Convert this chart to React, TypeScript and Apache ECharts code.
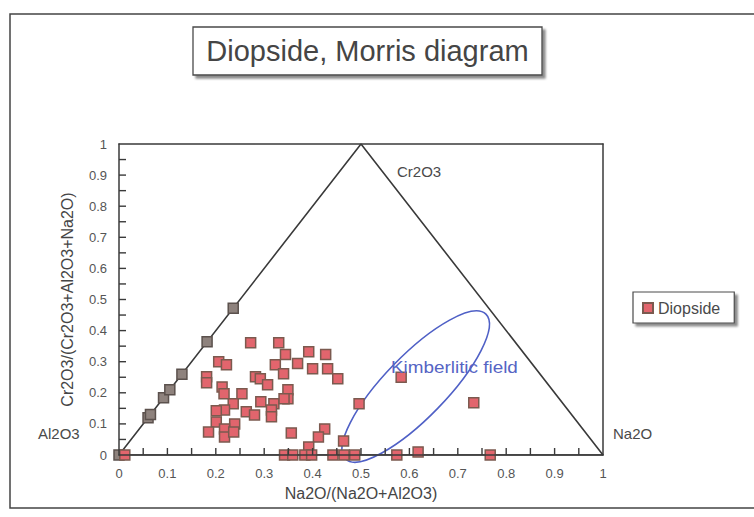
import React, { useEffect, useRef } from "react";
import * as echarts from "echarts";

// Axis tick labels (both axes run 0..1 in steps of 0.1)
const xTickLabels = ["0", "0.1", "0.2", "0.3", "0.4", "0.5", "0.6", "0.7", "0.8", "0.9", "1"];
const yTickLabels = ["0", "0.1", "0.2", "0.3", "0.4", "0.5", "0.6", "0.7", "0.8", "0.9", "1"];

// Tick marks on both axes (major and minor), pointing into the plot
const tickValues = [
  0.05, 0.1, 0.15, 0.2, 0.25, 0.3, 0.35, 0.4, 0.45, 0.5,
  0.55, 0.6, 0.65, 0.7, 0.75, 0.8, 0.85, 0.9, 0.95,
];

// Ternary frame: Al2O3 (0,0) - Cr2O3 (0.5,1) - Na2O (1,0)
const triangleX = [0, 0.5, 1, 0];
const triangleY = [0, 1, 0, 0];

// Diopside analyses: Na2O/(Na2O+Al2O3) and Cr2O3/(Cr2O3+Al2O3+Na2O)
const diopsideX = [
  0.012, 0.206, 0.222, 0.272, 0.33, 0.344, 0.392, 0.427, 0.369, 0.323,
  0.4, 0.431, 0.34, 0.452, 0.181, 0.181, 0.282, 0.292, 0.307, 0.213,
  0.217, 0.254, 0.349, 0.349, 0.293, 0.32, 0.236, 0.218, 0.201, 0.263,
  0.28, 0.315, 0.315, 0.341, 0.201, 0.239, 0.185, 0.218, 0.218, 0.237,
  0.356, 0.425, 0.412, 0.392, 0.464, 0.342, 0.359, 0.384, 0.398, 0.442,
  0.465, 0.487, 0.574, 0.618, 0.767, 0.496, 0.583, 0.733,
];
const diopsideY = [
  0, 0.3, 0.29, 0.361, 0.361, 0.323, 0.332, 0.323, 0.294, 0.29,
  0.277, 0.277, 0.261, 0.245, 0.252, 0.232, 0.252, 0.245, 0.226, 0.219,
  0.197, 0.197, 0.21, 0.181, 0.171, 0.165, 0.165, 0.145, 0.142, 0.139,
  0.129, 0.145, 0.123, 0.181, 0.106, 0.1, 0.074, 0.084, 0.058, 0.074,
  0.071, 0.084, 0.058, 0.026, 0.045, 0, 0, 0, 0, 0,
  0, 0, 0, 0.01, 0, 0.165, 0.25, 0.168,
];

// Analyses lying on the Al2O3-Cr2O3 join
const joinX = [0, 0.06, 0.065, 0.092, 0.105, 0.13, 0.182, 0.236];
const joinY = [0, 0.12, 0.13, 0.184, 0.21, 0.26, 0.364, 0.472];

// Kimberlitic field outline: centre, end of long axis, half-width (x units)
const fieldCenter = [0.613, 0.22];
const fieldTip = [0.758, 0.453];
const fieldHalfWidth = 0.064;

const FONT = "'Liberation Sans', Arial, Helvetica, sans-serif";
const INK = "#3a3a3a";
const TICK_LEN = 7;
const TICK_W = 1.4;

const tickFormatter = (labels: string[]) => (v: number) => {
  const i = Math.round(v * 10);
  return labels[i] ?? "";
};

// Plain frame line used for the top and right edges of the plot box
const frameAxis = (position: "top" | "right") => ({
  type: "value" as const,
  position,
  min: 0,
  max: 1,
  interval: 0.1,
  axisLine: { show: true, onZero: false, lineStyle: { color: INK, width: 1.5 } },
  axisTick: { show: false },
  axisLabel: { show: false },
  splitLine: { show: false },
});

export default function App() {
  const ref = useRef<HTMLDivElement>(null);

  useEffect(() => {
    if (!ref.current) return;
    const chart = echarts.init(ref.current, undefined, { renderer: "svg" });

    const diopsideData = diopsideX.map((x, i) => [x, diopsideY[i]]);
    const joinData = joinX.map((x, i) => [x, joinY[i]]);
    const triangleData = triangleX.map((x, i) => [x, triangleY[i]]);

    const mainAxis = {
      type: "value" as const,
      min: 0,
      max: 1,
      interval: 0.1,
      nameLocation: "middle" as const,
      nameTextStyle: { fontFamily: FONT, fontSize: 16, color: "#454545" },
      axisLine: { show: true, onZero: false, lineStyle: { color: INK, width: 1.5 } },
      axisTick: { show: false },
      splitLine: { show: false },
      z: 10,
    };

    const baseGraphic: any[] = [
      {
        type: "rect",
        shape: { x: 10, y: 14, width: 800, height: 494 },
        style: { fill: "none", stroke: "#444", lineWidth: 1.5 },
        silent: true,
        z: 0,
      },
      {
        type: "rect",
        shape: { x: 193, y: 27, width: 349, height: 48 },
        style: {
          fill: "#fff",
          stroke: "#4a4a4a",
          lineWidth: 1.3,
          shadowColor: "rgba(0,0,0,0.45)",
          shadowOffsetX: 3,
          shadowOffsetY: 3,
          shadowBlur: 2,
        },
        z: 1,
      },
      {
        type: "text",
        x: 367.5,
        y: 51,
        style: {
          text: "Diopside, Morris diagram",
          fontFamily: FONT,
          fontSize: 29,
          fill: "#454545",
          align: "center",
          verticalAlign: "middle",
        },
        z: 2,
      },
      {
        type: "text",
        x: 397,
        y: 171,
        style: { text: "Cr2O3", fontFamily: FONT, fontSize: 15, fill: "#4a4a4a", verticalAlign: "middle" },
      },
      {
        type: "text",
        x: 613,
        y: 433,
        style: { text: "Na2O", fontFamily: FONT, fontSize: 15, fill: "#4a4a4a", verticalAlign: "middle" },
      },
      {
        type: "text",
        x: 38,
        y: 433,
        style: { text: "Al2O3", fontFamily: FONT, fontSize: 15, fill: "#4a4a4a", verticalAlign: "middle" },
      },
      {
        type: "text",
        x: 391,
        y: 368,
        scaleX: 1.18,
        style: {
          text: "Kimberlitic field",
          fontFamily: FONT,
          fontSize: 16,
          fill: "#5664c4",
          verticalAlign: "middle",
        },
        z: 10,
      },
    ];

    chart.setOption({
      animation: false,
      backgroundColor: "#ffffff",
      grid: {
        left: 119,
        top: 144,
        width: 484,
        height: 311,
        show: false,
      },
      xAxis: [
        {
          ...mainAxis,
          position: "bottom",
          name: "Na2O/(Na2O+Al2O3)",
          nameGap: 30,
          axisLabel: {
            formatter: tickFormatter(xTickLabels),
            fontFamily: FONT,
            fontSize: 13,
            color: "#555",
            margin: 12,
          },
        },
        frameAxis("top"),
      ],
      yAxis: [
        {
          ...mainAxis,
          position: "left",
          name: "Cr2O3/(Cr2O3+Al2O3+Na2O)",
          nameGap: 44,
          axisLabel: {
            formatter: tickFormatter(yTickLabels),
            fontFamily: FONT,
            fontSize: 13,
            color: "#555",
            margin: 12,
          },
        },
        frameAxis("right"),
      ],
      legend: {
        data: ["Diopside"],
        left: 633,
        top: 292,
        orient: "vertical",
        icon: "rect",
        itemWidth: 10,
        itemHeight: 10,
        padding: [8, 14, 7, 9],
        backgroundColor: "#fff",
        borderColor: "#4a4a4a",
        borderWidth: 1.2,
        shadowColor: "rgba(0,0,0,0.45)",
        shadowOffsetX: 3,
        shadowOffsetY: 3,
        shadowBlur: 2,
        textStyle: { fontFamily: FONT, fontSize: 16, color: "#4a4a4a" },
      },
      graphic: baseGraphic,
      series: [
        {
          type: "line",
          name: "frame",
          data: triangleData,
          symbol: "none",
          lineStyle: { color: INK, width: 1.6 },
          silent: true,
          z: 2,
        },
        {
          type: "custom",
          name: "Kimberlitic field",
          data: [fieldCenter],
          silent: true,
          z: 3,
          renderItem: (_params: any, api: any) => {
            const c = api.coord(fieldCenter);
            const t = api.coord(fieldTip);
            const dx = t[0] - c[0];
            const dy = t[1] - c[1];
            const rx = Math.hypot(dx, dy);
            const ry = fieldHalfWidth * api.size([1, 0])[0];
            return {
              type: "ellipse",
              x: c[0],
              y: c[1],
              rotation: Math.atan2(-dy, dx),
              shape: { cx: 0, cy: 0, rx, ry },
              style: { fill: "none", stroke: "#4f60c6", lineWidth: 1.6 },
            };
          },
        },
        {
          type: "scatter",
          name: "join",
          data: joinData,
          symbol: "rect",
          symbolSize: 10,
          itemStyle: { color: "#8e827d", borderColor: "#5b514d", borderWidth: 1.5, opacity: 1 },
          z: 4,
        },
        {
          type: "scatter",
          name: "Diopside",
          data: diopsideData,
          symbol: "rect",
          symbolSize: 10,
          itemStyle: { color: "#e2656d", borderColor: "#7b5a4f", borderWidth: 1.5, opacity: 1 },
          z: 5,
        },
      ],
    });

    // Inward tick marks, placed through the axes' own scales
    const tickMarks: any[] = [];
    tickValues.forEach((v) => {
      const b = chart.convertToPixel({ gridIndex: 0 }, [v, 0]) as number[];
      const l = chart.convertToPixel({ gridIndex: 0 }, [0, v]) as number[];
      if (b) {
        tickMarks.push({
          type: "rect",
          shape: { x: b[0] - TICK_W / 2, y: b[1] - TICK_LEN, width: TICK_W, height: TICK_LEN },
          style: { fill: INK },
          silent: true,
          z: 100,
        });
      }
      if (l) {
        tickMarks.push({
          type: "rect",
          shape: { x: l[0], y: l[1] - TICK_W / 2, width: TICK_LEN, height: TICK_W },
          style: { fill: INK },
          silent: true,
          z: 100,
        });
      }
    });
    chart.setOption({ graphic: [...baseGraphic, ...tickMarks] });

    return () => chart.dispose();
  }, []);

  return (
    <div
      ref={ref}
      style={{ position: "fixed", left: 0, top: 0, width: 754, height: 517 }}
    />
  );
}
